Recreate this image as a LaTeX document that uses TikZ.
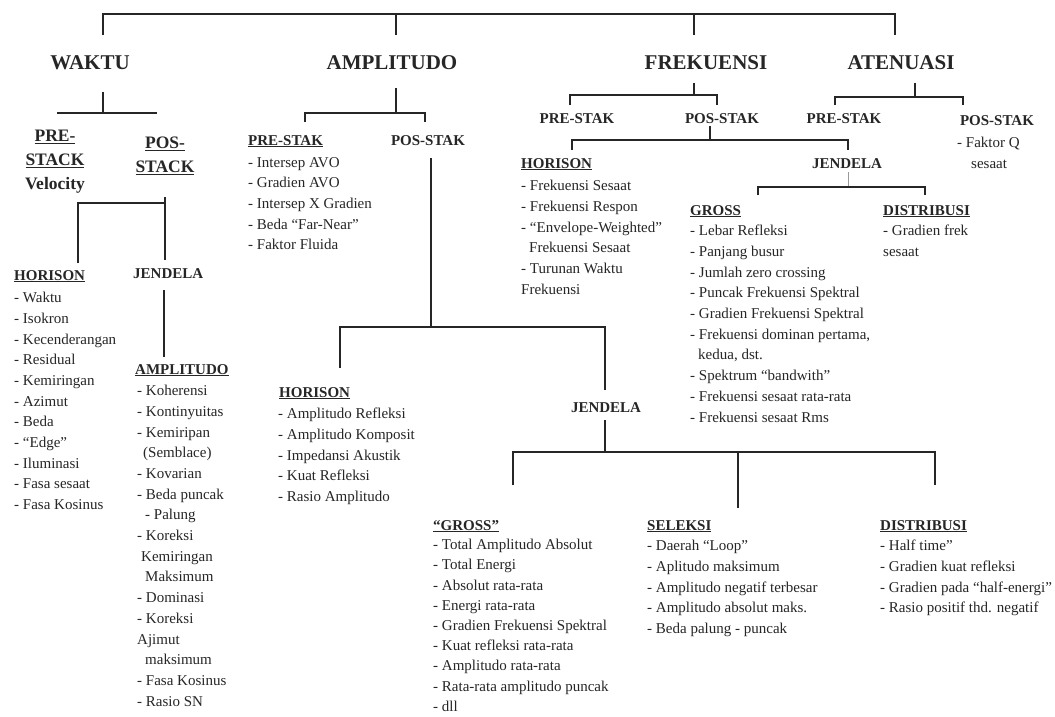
\documentclass[tikz,border=0pt]{standalone}
\usepackage{fontspec}
\setmainfont{Liberation Serif}
\begin{document}
\begin{tikzpicture}[x=1pt,y=-1pt,
  conn/.style={line width=2.6pt, draw=black!85},
  thin/.style={line width=1pt, draw=black!40},
  title/.style={font=\fontsize{21}{24}\selectfont\bfseries, text=black!85, inner sep=0, anchor=base},
  head/.style={font=\fontsize{15}{20.7}\selectfont\bfseries, text=black!85, inner sep=0},
  big/.style={font=\fontsize{17.5}{24}\selectfont\bfseries, text=black!85, inner sep=0, align=center, anchor=north},
  list/.style={font=\fontsize{15}{20.7}\selectfont, text=black!85, inner sep=0, align=left, anchor=north west},
  tight/.style={font=\fontsize{15}{20.2}\selectfont},
]
\path[use as bounding box, fill=white] (0,0) rectangle (1055,716);
\clip (0,0) rectangle (1055,716);

% ---------- titles ----------
\node[title] (waktu) at (90,69) {WAKTU};
\node[title] (ampl) at (392,69) {AMPLITUDO};
\node[title] (frek) at (706,69) {FREKUENSI};
\node[title] (aten) at (901,69) {ATENUASI};

% ---------- top bracket ----------
\coordinate (t1) at (103,35); \coordinate (t1u) at (103,14);
\coordinate (t4) at (895,35); \coordinate (t4u) at (895,14);
\coordinate (t2) at (396,35); \coordinate (t2u) at (396,14);
\coordinate (t3) at (694,35); \coordinate (t3u) at (694,14);
\draw[conn] (t1) -- (t1u) -- (t4u) -- (t4);
\draw[conn] (t2u) -- (t2);
\draw[conn] (t3u) -- (t3);

% ---------- WAKTU ----------
\coordinate (wa) at (103,92); \coordinate (wb) at (103,113);
\coordinate (wl) at (57,113); \coordinate (wr) at (157,113);
\draw[conn] (wa) -- (wb);
\draw[conn] (wl) -- (wr);

\node[big] (w-pre) at (55,130) {\underline{PRE-}\\\underline{STACK}\\Velocity};
\node[big] (w-pos) at (165,137) {\underline{POS-}\\\underline{STACK}};

\coordinate (wp1) at (78,263); \coordinate (wp2) at (78,203); \coordinate (wp3) at (165,203);
\coordinate (wp4) at (165,197); \coordinate (wp5) at (165,260);
\draw[conn] (wp1) -- (wp2) -- (wp3);
\draw[conn] (wp4) -- (wp5);

\node[head, anchor=base west] (w-hor) at (14,280) {\underline{HORISON}};
\node[list] (w-horl) at (14,292) {- Waktu\\- Isokron\\- Kecenderangan\\- Residual\\- Kemiringan\\- Azimut\\- Beda\\- “Edge”\\- Iluminasi\\- Fasa sesaat\\- Fasa Kosinus};

\node[head, anchor=base west] (w-jen) at (133,278) {JENDELA};
\coordinate (wj1) at (164,290); \coordinate (wj2) at (164,357);
\draw[conn] (wj1) -- (wj2);
\node[head, anchor=base west] (w-amp) at (135,374) {\underline{AMPLITUDO}};
\node[list] (w-ampl) at (137,385) {- Koherensi\\- Kontinyuitas\\- Kemiripan\\\hspace*{6pt}(Semblace)\\- Kovarian\\- Beda puncak\\\hspace*{8pt}- Palung\\- Koreksi\\\hspace*{4pt}Kemiringan\\\hspace*{8pt}Maksimum\\- Dominasi\\- Koreksi\\Ajimut\\\hspace*{8pt}maksimum\\- Fasa Kosinus\\- Rasio SN};

% ---------- AMPLITUDO ----------
\coordinate (aa) at (396,88); \coordinate (ab) at (396,113);
\coordinate (al) at (305,122); \coordinate (alu) at (305,113);
\coordinate (ar) at (425,122); \coordinate (aru) at (425,113);
\draw[conn] (aa) -- (ab);
\draw[conn] (al) -- (alu) -- (aru) -- (ar);

\node[head, anchor=base west] (a-pre) at (248,145) {\underline{PRE-STAK}};
\node[list] (a-prel) at (248,157) {- Intersep AVO\\- Gradien AVO\\- Intersep X Gradien\\- Beda “Far-Near”\\- Faktor Fluida};
\node[head, anchor=base] (a-pos) at (428,145) {POS-STAK};

\coordinate (ap1) at (431,158); \coordinate (ap2) at (431,327);
\draw[conn] (ap1) -- (ap2);
\coordinate (ap3) at (340,368); \coordinate (ap4) at (340,327);
\coordinate (ap5) at (605,327); \coordinate (ap6) at (605,390);
\draw[conn] (ap3) -- (ap4) -- (ap5) -- (ap6);

\node[head, anchor=base west] (a-hor) at (279,397) {\underline{HORISON}};
\node[list] (a-horl) at (278,408) {- Amplitudo Refleksi\\- Amplitudo Komposit\\- Impedansi Akustik\\- Kuat Refleksi\\- Rasio Amplitudo};

\node[head, anchor=base] (a-jen) at (606,412) {JENDELA};
\coordinate (aj1) at (605,420); \coordinate (aj2) at (605,452);
\draw[conn] (aj1) -- (aj2);
\coordinate (aj3) at (513,485); \coordinate (aj4) at (513,452);
\coordinate (aj5) at (935,452); \coordinate (aj6) at (935,485);
\coordinate (aj7) at (738,452); \coordinate (aj8) at (738,508);
\draw[conn] (aj3) -- (aj4) -- (aj5) -- (aj6);
\draw[conn] (aj7) -- (aj8);

\node[head, anchor=base west] (a-gro) at (433,530) {\underline{“GROSS”}};
\node[list, tight] (a-grol) at (433,539) {- Total Amplitudo Absolut\\- Total Energi\\- Absolut rata-rata\\- Energi rata-rata\\- Gradien Frekuensi Spektral\\- Kuat refleksi rata-rata\\- Amplitudo rata-rata\\- Rata-rata amplitudo puncak\\- dll};
\node[head, anchor=base west] (a-sel) at (647,530) {\underline{SELEKSI}};
\node[list] (a-sell) at (647,540) {- Daerah “Loop”\\- Aplitudo maksimum\\- Amplitudo negatif terbesar\\- Amplitudo absolut maks.\\- Beda palung - puncak};
\node[head, anchor=base west] (a-dis) at (880,530) {\underline{DISTRIBUSI}};
\node[list] (a-disl) at (880,540) {- Half time”\\- Gradien kuat refleksi\\- Gradien pada “half-energi”\\- Rasio positif thd. negatif};

% ---------- FREKUENSI ----------
\coordinate (fa) at (694,83); \coordinate (fb) at (694,95);
\coordinate (fl) at (570,105); \coordinate (flu) at (570,95);
\coordinate (fr) at (717,105); \coordinate (fru) at (717,95);
\draw[conn] (fa) -- (fb);
\draw[conn] (fl) -- (flu) -- (fru) -- (fr);
\node[head, anchor=base] (f-pre) at (577,123) {PRE-STAK};
\node[head, anchor=base] (f-pos) at (722,123) {POS-STAK};

\coordinate (fp1) at (710,126); \coordinate (fp2) at (710,140);
\draw[conn] (fp1) -- (fp2);
\coordinate (fp3) at (572,150); \coordinate (fp4) at (572,140);
\coordinate (fp5) at (848,140); \coordinate (fp6) at (848,150);
\draw[conn] (fp3) -- (fp4) -- (fp5) -- (fp6);

\node[head, anchor=base west] (f-hor) at (521,168) {\underline{HORISON}};
\node[list] (f-horl) at (521,180) {- Frekuensi Sesaat\\- Frekuensi Respon\\- “Envelope-Weighted”\\\hspace*{8pt}Frekuensi Sesaat\\- Turunan Waktu\\Frekuensi};

\node[head, anchor=base] (f-jen) at (847,168) {JENDELA};
\coordinate (fj1) at (848,172); \coordinate (fj2) at (848,187);
\draw[thin] (fj1) -- (fj2);
\coordinate (fj3) at (758,195); \coordinate (fj4) at (758,187);
\coordinate (fj5) at (925,187); \coordinate (fj6) at (925,195);
\draw[conn] (fj3) -- (fj4) -- (fj5) -- (fj6);

\node[head, anchor=base west] (f-gro) at (690,215) {\underline{GROSS}};
\node[list] (f-grol) at (690,225) {- Lebar Refleksi\\- Panjang busur\\- Jumlah zero crossing\\- Puncak Frekuensi Spektral\\- Gradien Frekuensi Spektral\\- Frekuensi dominan pertama,\\\hspace*{8pt}kedua, dst.\\- Spektrum “bandwith”\\- Frekuensi sesaat rata-rata\\- Frekuensi sesaat Rms};
\node[head, anchor=base west] (f-dis) at (883,215) {\underline{DISTRIBUSI}};
\node[list] (f-disl) at (883,225) {- Gradien frek\\sesaat};

% ---------- ATENUASI ----------
\coordinate (ta) at (915,83); \coordinate (tb) at (915,97);
\coordinate (tl) at (835,105); \coordinate (tlu) at (835,97);
\coordinate (tr) at (963,105); \coordinate (tru) at (963,97);
\draw[conn] (ta) -- (tb);
\draw[conn] (tl) -- (tlu) -- (tru) -- (tr);
\node[head, anchor=base] (t-pre) at (844,123) {PRE-STAK};
\node[head, anchor=base] (t-pos) at (997,125) {POS-STAK};
\node[list] (t-posl) at (957,137) {- Faktor Q\\\hspace*{14pt}sesaat};
\end{tikzpicture}
\end{document}
